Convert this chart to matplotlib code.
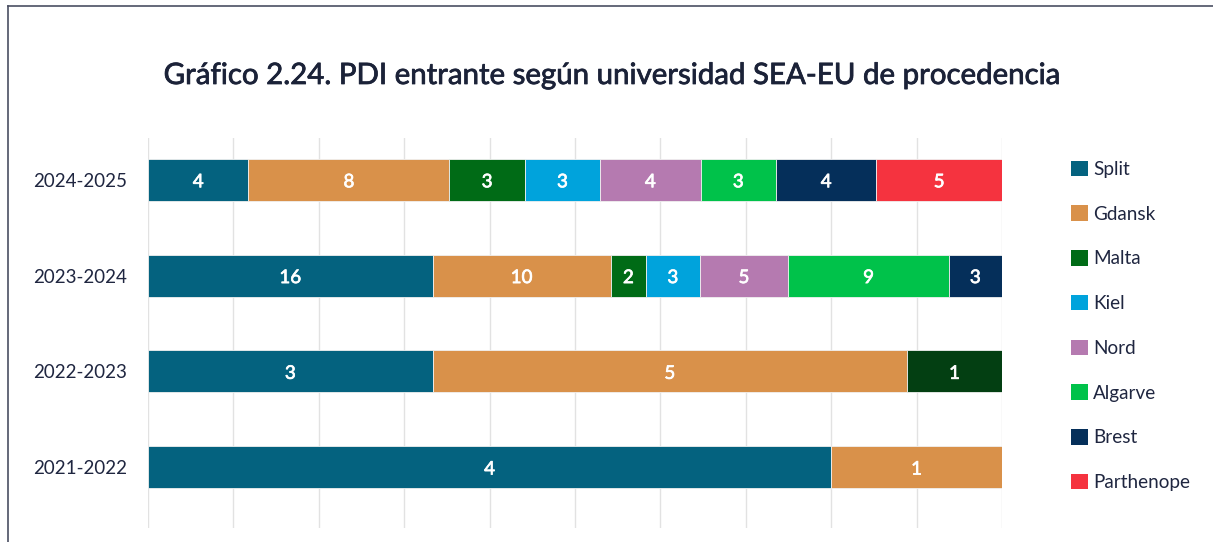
import numpy as np
import matplotlib.pyplot as plt
import matplotlib.patheffects as pe
from matplotlib.lines import Line2D
from matplotlib.patches import Patch

plt.rcParams['font.family'] = ['Lato', 'DejaVu Sans']

# Datos
cursos = ['2024-2025', '2023-2024', '2022-2023', '2021-2022']
universidades = ['Split', 'Gdansk', 'Malta', 'Kiel', 'Nord', 'Algarve', 'Brest', 'Parthenope']
colores = ['#04627f', '#d9914a', '#006b16', '#00a3dc', '#b57ab0', '#00c24a', '#052f5a', '#f5333f']

split = [4, 16, 3, 4]
gdansk = [8, 10, 5, 1]
malta = [3, 2, 1, 0]
kiel = [3, 3, 0, 0]
nord = [4, 5, 0, 0]
algarve = [3, 9, 0, 0]
brest = [4, 3, 0, 0]
parthenope = [5, 0, 0, 0]

valores = np.array([split, gdansk, malta, kiel, nord, algarve, brest, parthenope], dtype=float)
totales = valores.sum(axis=0)
porcentajes = valores / totales * 100

# el segmento de Malta 2022-2023 aparece en un verde más oscuro
color_especial = {(2, 2): '#033f12'}

fig = plt.figure(figsize=(12.13, 5.42), dpi=100)
ax = fig.add_axes([148/1213, 14/542, 854/1213, 390/542])

ypos = np.arange(len(cursos))[::-1]
izq = np.zeros(len(cursos))
for i, uni in enumerate(universidades):
    cols = [color_especial.get((i, j), colores[i]) for j in range(len(cursos))]
    ax.barh(ypos, porcentajes[i], left=izq, height=0.4375, color=cols,
            edgecolor='#f0f0f0', linewidth=0.6, zorder=3)
    for j in range(len(cursos)):
        if valores[i, j] > 0:
            ax.text(izq[j] + porcentajes[i, j] / 2, ypos[j] - 0.02, f'{int(valores[i, j])}',
                    ha='center', va='center', color='white', fontsize=13.5, zorder=4,
                    path_effects=[pe.withStroke(linewidth=0.5, foreground='white')])
    izq += porcentajes[i]

ax.set_xlim(0, 100)
ax.set_ylim(-0.635, 3.4375)
ax.set_xticks(np.arange(0, 101, 10))
ax.set_xticklabels([])
ax.tick_params(axis='x', length=0)
ax.grid(axis='x', color='#e2e2e2', linewidth=1, zorder=0)
ax.set_yticks(ypos)
ax.set_yticklabels(cursos, fontsize=13.5, color='#1f2640')
ax.tick_params(axis='y', length=0, pad=15)
for s in ax.spines.values():
    s.set_visible(False)

fig.text(611/1213, 1 - 76/542, 'Gráfico 2.24. PDI entrante según universidad SEA-EU de procedencia',
         ha='center', va='center', fontsize=21.2, color='#1b2238',
         path_effects=[pe.withStroke(linewidth=0.55, foreground='#1b2238')])

handles = [Patch(facecolor=c, label=u) for u, c in zip(universidades, colores)]
fig.legend(handles=handles, loc='upper left', bbox_to_anchor=(1063/1213, 1 - 153/542),
           frameon=False, fontsize=13.6, labelcolor='#1f2640', handlelength=0.9,
           handleheight=0.9, handletextpad=0.3, labelspacing=1.45, borderaxespad=0)

# marco
bx = 8/1213
by = 1 - 6/542
fig.add_artist(Line2D([bx, bx], [0, by], color='#4a4f62', linewidth=1.2, transform=fig.transFigure))
fig.add_artist(Line2D([bx, 1], [by, by], color='#4a4f62', linewidth=1.2, transform=fig.transFigure))

fig.savefig('out.png', dpi=100)
